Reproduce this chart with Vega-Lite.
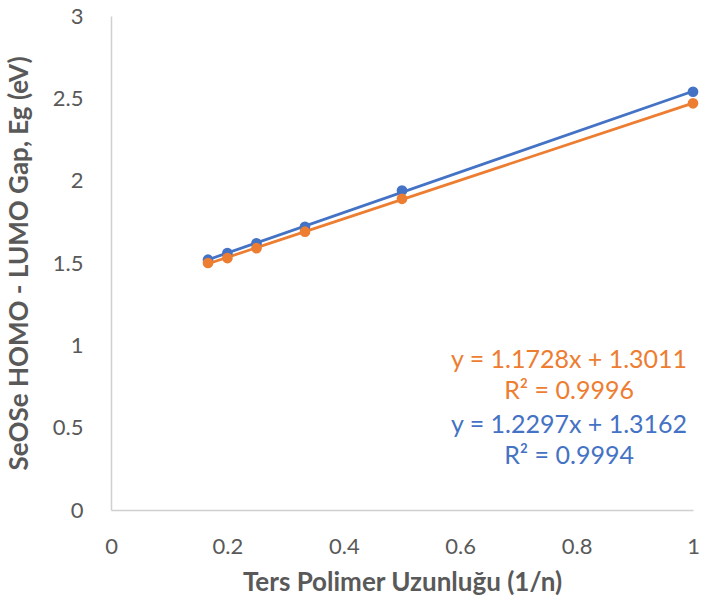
{
  "$schema": "https://vega.github.io/schema/vega-lite/v6.json",
  "width": 582,
  "height": 494,
  "autosize": {"type": "none"},
  "padding": {"left": 111, "top": 16, "right": 11, "bottom": 102},
  "background": "white",
  "config": {
    "view": {"stroke": null},
    "font": "Lato",
    "axis": {
      "grid": false,
      "ticks": false,
      "labelFlush": false,
      "domainColor": "#d0d0d0",
      "domainWidth": 1.5,
      "labelColor": "#595959",
      "labelFont": "Lato",
      "labelFontSize": 22,
      "titleColor": "#595959",
      "titleFont": "Lato",
      "titleFontSize": 26,
      "titleFontWeight": "bold"
    }
  },
  "datasets": {
    "gap": [
      {"inv_n": 0.1667, "eg": 1.52, "set": "blue"},
      {"inv_n": 0.2, "eg": 1.56, "set": "blue"},
      {"inv_n": 0.25, "eg": 1.62, "set": "blue"},
      {"inv_n": 0.3333, "eg": 1.72, "set": "blue"},
      {"inv_n": 0.5, "eg": 1.94, "set": "blue"},
      {"inv_n": 1.0, "eg": 2.54, "set": "blue"},
      {"inv_n": 0.1667, "eg": 1.50, "set": "orange"},
      {"inv_n": 0.2, "eg": 1.53, "set": "orange"},
      {"inv_n": 0.25, "eg": 1.59, "set": "orange"},
      {"inv_n": 0.3333, "eg": 1.69, "set": "orange"},
      {"inv_n": 0.5, "eg": 1.89, "set": "orange"},
      {"inv_n": 1.0, "eg": 2.47, "set": "orange"}
    ],
    "notes": [
      {"x": 0.787, "y": 0.911, "label": "y = 1.1728x + 1.3011", "set": "orange"},
      {"x": 0.787, "y": 0.72, "label": "R² = 0.9996", "set": "orange"},
      {"x": 0.787, "y": 0.516, "label": "y = 1.2297x + 1.3162", "set": "blue"},
      {"x": 0.787, "y": 0.33, "label": "R² = 0.9994", "set": "blue"}
    ]
  },
  "layer": [
    {
      "data": {"name": "gap"},
      "transform": [
        {"regression": "eg", "on": "inv_n", "groupby": ["set"], "extent": [0.1667, 1.0]}
      ],
      "mark": {"type": "line", "strokeWidth": 2.8},
      "encoding": {
        "x": {"field": "inv_n", "type": "quantitative"},
        "y": {"field": "eg", "type": "quantitative"},
        "color": {"field": "set", "type": "nominal", "scale": {"domain": ["blue", "orange"], "range": ["#4472C4", "#ED7D31"]}, "legend": null}
      }
    },
    {
      "data": {"name": "gap"},
      "mark": {"type": "point", "filled": true, "opacity": 1, "size": 115},
      "encoding": {
        "x": {
          "field": "inv_n", "type": "quantitative",
          "scale": {"domain": [0, 1], "nice": false},
          "axis": {"values": [0, 0.2, 0.4, 0.6, 0.8, 1], "format": "~g", "labelPadding": 26, "title": "Ters Polimer Uzunluğu (1/n)", "titlePadding": 12}
        },
        "y": {
          "field": "eg", "type": "quantitative",
          "scale": {"domain": [0, 3], "nice": false},
          "axis": {"values": [0, 0.5, 1, 1.5, 2, 2.5, 3], "format": "~g", "labelPadding": 28, "title": "SeOSe HOMO - LUMO Gap, Eg (eV)", "titlePadding": 20}
        },
        "color": {"field": "set", "type": "nominal", "scale": {"domain": ["blue", "orange"], "range": ["#4472C4", "#ED7D31"]}, "legend": null}
      }
    },
    {
      "data": {"name": "notes"},
      "mark": {"type": "text", "fontSize": 25, "align": "center", "baseline": "middle", "font": "Lato"},
      "encoding": {
        "x": {"field": "x", "type": "quantitative"},
        "y": {"field": "y", "type": "quantitative"},
        "text": {"field": "label"},
        "color": {"field": "set", "type": "nominal", "scale": {"domain": ["blue", "orange"], "range": ["#4472C4", "#ED7D31"]}, "legend": null}
      }
    }
  ]
}
